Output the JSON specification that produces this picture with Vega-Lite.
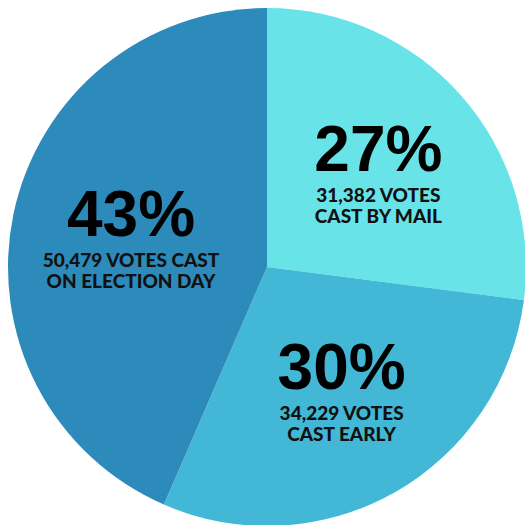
{
  "$schema": "https://vega.github.io/schema/vega-lite/v6.json",
  "autosize": {"type": "fit", "contains": "padding"},
  "padding": {"left": 9, "top": 9, "right": 0, "bottom": 0},
  "width": 525,
  "height": 525,
  "background": "white",
  "config": {"view": {"stroke": null}},
  "data": {
    "values": [
      {"idx": 1, "method": "Mail", "votes": 31382, "pct": "27%", "desc": "31,382 VOTES\nCAST BY MAIL"},
      {"idx": 2, "method": "Early", "votes": 34229, "pct": "30%", "desc": "34,229 VOTES\nCAST EARLY"},
      {"idx": 3, "method": "Election Day", "votes": 50479, "pct": "43%", "desc": "50,479 VOTES CAST\nON ELECTION DAY"}
    ]
  },
  "encoding": {
    "theta": {"field": "votes", "type": "quantitative", "stack": true},
    "order": {"field": "idx", "type": "quantitative"}
  },
  "layer": [
    {
      "mark": {"type": "arc", "radius": 259, "strokeWidth": 0},
      "encoding": {
        "color": {
          "field": "method",
          "type": "nominal",
          "scale": {"domain": ["Mail", "Early", "Election Day"], "range": ["#68e4e9", "#43b8d6", "#2c8bba"]},
          "legend": null
        }
      }
    },
    {
      "mark": {"type": "text", "radius": 143, "dx": 4, "dy": -21, "font": "Liberation Sans", "fontWeight": "bold", "fontSize": 64, "baseline": "middle", "align": "center", "color": "black"},
      "encoding": {"text": {"field": "pct", "type": "nominal"}}
    },
    {
      "mark": {"type": "text", "radius": 143, "dx": 4, "dy": 23, "font": "Lato", "fontWeight": 900, "fontSize": 19, "lineBreak": "\n", "lineHeight": 21, "baseline": "middle", "align": "center", "color": "#111111"},
      "encoding": {"text": {"field": "desc", "type": "nominal"}}
    }
  ]
}
